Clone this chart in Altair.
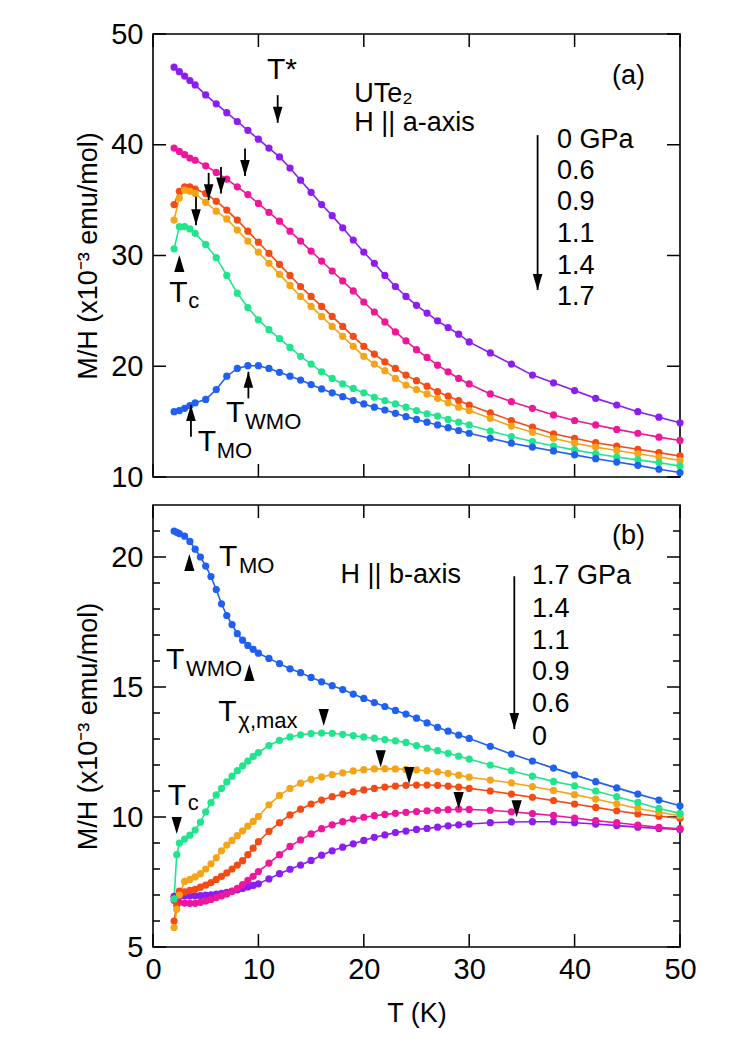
import altair as alt
import pandas as pd

FONT = "Liberation Sans"

# ---------------- data ----------------
PRESSURES = ["0", "0.6", "0.9", "1.1", "1.4", "1.7"]
COLORS = ["#8c1cf2", "#f0169b", "#f54a14", "#f5a418", "#1fe58c", "#1f5ff2"]

# panel (a): H || a-axis
T_A = [2, 2.5, 3, 3.5, 4, 5, 6, 7, 8, 9, 10, 11, 12, 13, 14, 15, 16, 17, 18, 19, 20,
       21, 22, 23, 24, 25, 26, 27, 28, 29, 30, 32, 34, 36, 38, 40, 42, 44, 46, 48, 50]
A_P0 = [47.0, 46.6, 46.2, 45.8, 45.4, 44.5, 43.7, 42.9, 42.1, 41.3, 40.5, 39.7, 38.9,
        37.9, 36.8, 35.7, 34.6, 33.6, 32.5, 31.4, 30.3, 29.3, 28.2, 27.2, 26.3, 25.5,
        24.8, 24.1, 23.5, 22.9, 22.2, 21.2, 20.2, 19.2, 18.5, 17.8, 17.1, 16.5, 15.9,
        15.4, 14.9]
A_P06 = [39.7, 39.4, 39.1, 38.8, 38.6, 38.1, 37.5, 36.9, 36.2, 35.5, 34.7, 33.9, 33.1,
         32.2, 31.3, 30.4, 29.5, 28.6, 27.7, 26.8, 25.8, 24.9, 24.0, 23.1, 22.3, 21.5,
         20.8, 20.1, 19.5, 18.9, 18.4, 17.5, 16.8, 16.2, 15.6, 15.1, 14.7, 14.3, 13.95,
         13.6, 13.3]
A_P09 = [34.6, 35.8, 36.2, 36.2, 36.0, 35.6, 34.9, 34.1, 33.2, 32.2, 31.2, 30.2, 29.2,
         28.2, 27.2, 26.3, 25.4, 24.5, 23.6, 22.7, 21.8, 21.1, 20.4, 19.8, 19.2, 18.7,
         18.2, 17.7, 17.3, 16.9, 16.5, 15.8, 15.1, 14.5, 13.9, 13.5, 13.1, 12.8, 12.5,
         12.2, 11.9]
A_P11 = [33.2, 35.2, 35.9, 35.8, 35.6, 34.8, 34.0, 33.3, 32.3, 31.3, 30.3, 29.3, 28.3,
         27.3, 26.3, 25.4, 24.5, 23.6, 22.7, 21.8, 20.9, 20.2, 19.6, 18.9, 18.3, 17.9,
         17.5, 17.1, 16.7, 16.3, 16.0, 15.3, 14.6, 14.05, 13.5, 13.05, 12.7, 12.4, 12.1,
         11.8, 11.5]
A_P14 = [30.6, 32.6, 32.6, 32.4, 32.0, 31.0, 29.8, 28.2, 26.6, 25.3, 24.2, 23.3, 22.5,
         21.7, 20.9, 20.2, 19.5, 18.9, 18.4, 18.0, 17.6, 17.2, 16.9, 16.6, 16.3, 16.0,
         15.7, 15.5, 15.2, 14.95, 14.7, 14.15, 13.65, 13.2, 12.8, 12.45, 12.1, 11.8,
         11.55, 11.3, 11.0]
A_P17 = [15.9, 16.0, 16.2, 16.45, 16.7, 17.0, 17.9, 19.1, 19.8, 20.05, 20.05, 19.8, 19.45,
         19.1, 18.75, 18.35, 17.95, 17.6, 17.25, 16.9, 16.6, 16.3, 16.05, 15.75, 15.45,
         15.2, 14.95, 14.7, 14.45, 14.2, 13.95, 13.5, 13.05, 12.7, 12.35, 12.0, 11.65,
         11.35, 11.05, 10.7, 10.4]

# panel (b): H || b-axis
T_B = [2, 2.25, 2.5, 3, 3.5, 4, 4.5, 5, 5.5, 6, 6.5, 7, 7.5, 8, 8.5, 9, 9.5, 10,
       11, 12, 13, 14, 15, 16, 17, 18, 19, 20, 21, 22, 23, 24, 25, 26, 27, 28, 29, 30,
       32, 34, 36, 38, 40, 42, 44, 46, 48, 50]
B_P0 = [6.95, 6.95, 6.96, 6.97, 6.97, 6.97, 6.98, 7.0, 7.01, 7.03, 7.06, 7.1, 7.15, 7.2,
        7.25, 7.31, 7.37, 7.43, 7.62, 7.82, 7.99, 8.15, 8.33, 8.53, 8.7, 8.84, 8.97, 9.1,
        9.22, 9.31, 9.4, 9.46, 9.52, 9.56, 9.61, 9.66, 9.7, 9.73, 9.78, 9.81, 9.82, 9.82,
        9.78, 9.73, 9.67, 9.61, 9.56, 9.52]
B_P06 = [6.8, 6.75, 6.72, 6.69, 6.68, 6.68, 6.72, 6.77, 6.83, 6.9, 6.97, 7.04, 7.14, 7.26,
         7.4, 7.56, 7.72, 7.9, 8.23, 8.55, 8.87, 9.12, 9.35, 9.55, 9.7, 9.82, 9.92, 9.99,
         10.05, 10.1, 10.14, 10.18, 10.21, 10.24, 10.26, 10.28, 10.3, 10.29, 10.26, 10.2,
         10.13, 10.06, 9.96, 9.86, 9.78, 9.69, 9.6, 9.55]
B_P09 = [6.0, 6.6, 7.15, 7.12, 7.18, 7.22, 7.3, 7.38, 7.48, 7.6, 7.72, 7.85, 8.0, 8.15,
         8.32, 8.55, 8.8, 9.05, 9.45, 9.78, 10.08, 10.3, 10.5, 10.65, 10.78, 10.88, 10.97,
         11.04, 11.1, 11.15, 11.19, 11.22, 11.23, 11.23, 11.22, 11.19, 11.15, 11.1, 11.0,
         10.88, 10.76, 10.63, 10.5, 10.37, 10.24, 10.12, 10.03, 9.95]
B_P11 = [5.75, 6.45, 7.0, 7.52, 7.6, 7.7, 7.82, 8.0, 8.2, 8.43, 8.7, 8.92, 9.1, 9.28,
         9.47, 9.65, 9.83, 10.02, 10.47, 10.83, 11.1, 11.3, 11.45, 11.54, 11.63, 11.7,
         11.77, 11.82, 11.85, 11.86, 11.85, 11.83, 11.81, 11.78, 11.74, 11.68, 11.61,
         11.53, 11.42, 11.31, 11.17, 11.02, 10.86, 10.69, 10.51, 10.33, 10.18, 10.05]
B_P14 = [6.85, 8.55, 9.0, 9.15, 9.3, 9.5, 9.8, 10.2, 10.55, 10.85, 11.1, 11.35, 11.57,
         11.78, 11.97, 12.15, 12.33, 12.48, 12.75, 12.95, 13.08, 13.16, 13.21, 13.23,
         13.22, 13.18, 13.13, 13.08, 13.03, 12.98, 12.93, 12.87, 12.75, 12.65, 12.55,
         12.45, 12.34, 12.23, 12.0, 11.78, 11.57, 11.37, 11.2, 11.0, 10.78, 10.56, 10.33,
         10.14]
B_P17 = [21.0, 20.95, 20.9, 20.8, 20.6, 20.3, 20.0, 19.65, 19.25, 18.75, 18.2, 17.75,
         17.4, 17.05, 16.8, 16.6, 16.45, 16.3, 16.1, 15.9, 15.7, 15.55, 15.37, 15.2,
         15.05, 14.9, 14.73, 14.56, 14.4, 14.25, 14.1, 13.96, 13.8, 13.62, 13.45, 13.3,
         13.15, 13.02, 12.72, 12.42, 12.15, 11.88, 11.62, 11.36, 11.12, 10.88, 10.65,
         10.43]

# axis tick values
X_TICKS = [0, 10, 20, 30, 40, 50]
YA_TICKS = [10, 20, 30, 40, 50]
YB_TICKS = [5, 10, 15, 20]
YB_MINOR = [6, 7, 8, 9, 11, 12, 13, 14, 16, 17, 18, 19, 21]


def long_table(T, series):
    rows = []
    for p, vals in zip(PRESSURES, series):
        for t, m in zip(T, vals):
            rows.append({"T": t, "M": m, "P": p})
    return pd.DataFrame(rows)


df_a = long_table(T_A, [A_P0, A_P06, A_P09, A_P11, A_P14, A_P17])
df_b = long_table(T_B, [B_P0, B_P06, B_P09, B_P11, B_P14, B_P17])

# ---------------- styling ----------------
W, HA, HB = 527, 443, 442
MAJ, MIN = 13, 7
YTITLE = "M/H (x10\u207b\u00b3 emu/mol)"
UP = "M0,0 L0.6,2 L-0.6,2 Z"
DOWN = "M0,0 L0.6,-2 L-0.6,-2 Z"

XS = alt.Scale(domain=[0, 50], nice=False, zero=False)

X_A = alt.X("T:Q", scale=XS, axis=alt.Axis(labels=False, title=None))
Y_A = alt.Y("M:Q", scale=alt.Scale(domain=[10, 50], nice=False, zero=False),
            axis=alt.Axis(values=YA_TICKS, format="d", title=YTITLE,
                          labelPadding=10, titlePadding=8))
X_B = alt.X("T:Q", scale=XS,
            axis=alt.Axis(values=X_TICKS, format="d", title="T (K)",
                          labelPadding=8, titlePadding=16))
Y_B = alt.Y("M:Q", scale=alt.Scale(domain=[5, 22], nice=False, zero=False),
            axis=alt.Axis(values=YB_TICKS, format="d", title=YTITLE,
                          labelPadding=10, titlePadding=8))

color = alt.Color("P:N", scale=alt.Scale(domain=PRESSURES, range=COLORS), legend=None)


def curves(df, X, Y):
    base = alt.Chart(df).encode(x=X, y=Y, color=color, detail="P:N")
    return [base.mark_line(strokeWidth=1.6),
            base.mark_circle(size=52, opacity=1)]


def ticks(X, Y, yvals, h, minor=None):
    out = []
    ydf = pd.DataFrame({"M": yvals})
    xdf = pd.DataFrame({"T": X_TICKS})
    rule = dict(color="black", strokeWidth=1.5)
    out.append(alt.Chart(ydf).mark_rule(**rule).encode(y=Y, x=alt.value(0), x2=alt.value(MAJ)))
    out.append(alt.Chart(ydf).mark_rule(**rule).encode(y=Y, x=alt.value(W - MAJ), x2=alt.value(W)))
    out.append(alt.Chart(xdf).mark_rule(**rule).encode(x=X, y=alt.value(0), y2=alt.value(MAJ)))
    out.append(alt.Chart(xdf).mark_rule(**rule).encode(x=X, y=alt.value(h - MAJ), y2=alt.value(h)))
    if minor:
        mdf = pd.DataFrame({"M": minor})
        out.append(alt.Chart(mdf).mark_rule(**rule).encode(y=Y, x=alt.value(0), x2=alt.value(MIN)))
        out.append(alt.Chart(mdf).mark_rule(**rule).encode(y=Y, x=alt.value(W - MIN), x2=alt.value(W)))
    return out


def texts(rows, X, Y, size, align="left", dx=0, dy=0):
    df = pd.DataFrame(rows, columns=["T", "M", "label"])
    return alt.Chart(df).mark_text(font=FONT, fontSize=size, align=align, baseline="middle",
                                   dx=dx, dy=dy, color="black").encode(x=X, y=Y, text="label:N")


def arrows(rows, X, Y):
    df = pd.DataFrame(rows, columns=["T", "M", "M2"])
    return alt.Chart(df).mark_rule(color="black", strokeWidth=1.8).encode(x=X, y=Y, y2="M2:Q")


def heads(rows, X, Y, shape, size):
    df = pd.DataFrame(rows, columns=["T", "M"])
    return alt.Chart(df).mark_point(shape=shape, filled=True, size=size, color="black",
                                    opacity=1, strokeWidth=0).encode(x=X, y=Y)


# ---------------- panel (a) ----------------
a_layers = ticks(X_A, Y_A, YA_TICKS, HA) + curves(df_a, X_A, Y_A)
a_layers += [
    texts([(19.1, 44.57, "UTe\u2082"), (19.1, 42.0, "H || a-axis"),
           (38.33, 40.42, "0 GPa"), (38.33, 37.64, "0.6"), (38.33, 34.85, "0.9"),
           (38.33, 31.93, "1.1"), (38.33, 29.06, "1.4"), (38.33, 26.27, "1.7")],
          X_A, Y_A, 27),
    texts([(46.68, 46.23, "(a)")], X_A, Y_A, 27, align="right"),
    texts([(10.82, 46.73, "T*"), (1.55, 26.6, "T"), (6.93, 15.8, "T"), (4.24, 13.16, "T")],
          X_A, Y_A, 30),
    texts([(1.55, 26.6, "c")], X_A, Y_A, 22, dx=19, dy=8),
    texts([(6.93, 15.8, "WMO"), (4.24, 13.16, "MO")], X_A, Y_A, 22, dx=19, dy=9),
    arrows([(11.83, 44.48, 41.98), (8.73, 39.67, 37.17), (6.45, 38.0, 35.6),
            (5.28, 37.46, 35.0), (4.08, 35.3, 32.74), (36.49, 40.87, 26.88),
            (9.05, 19.5, 17.1), (3.6, 16.5, 13.64)], X_A, Y_A),
    heads([(11.83, 41.98), (8.73, 37.17), (6.45, 35.6), (5.28, 35.0), (4.08, 32.74),
           (36.49, 26.88)], X_A, Y_A, DOWN, 256),
    heads([(9.05, 19.5), (3.6, 16.5)], X_A, Y_A, UP, 256),
    heads([(2.5, 30.04)], X_A, Y_A, UP, 289),
]
panel_a = alt.layer(*a_layers).properties(width=W, height=HA)

# ---------------- panel (b) ----------------
b_layers = ticks(X_B, Y_B, YB_TICKS, HB, minor=YB_MINOR) + curves(df_b, X_B, Y_B)
b_layers += [
    texts([(17.78, 19.32, "H || b-axis"),
           (35.96, 19.27, "1.7 GPa"), (35.96, 18.0, "1.4"), (35.96, 16.78, "1.1"),
           (35.96, 15.58, "0.9"), (35.96, 14.35, "0.6"), (35.96, 13.08, "0")],
          X_B, Y_B, 27),
    texts([(46.68, 20.82, "(b)")], X_B, Y_B, 27, align="right"),
    texts([(6.26, 20.0, "T"), (1.23, 16.05, "T"), (6.2, 14.04, "T"), (1.39, 10.79, "T")],
          X_B, Y_B, 30),
    texts([(6.26, 20.0, "MO"), (1.23, 16.05, "WMO"), (6.2, 14.04, "\u03c7,max")],
          X_B, Y_B, 22, dx=20, dy=9),
    texts([(1.39, 10.79, "c")], X_B, Y_B, 22, dx=20, dy=7),
    arrows([(34.28, 19.26, 13.38)], X_B, Y_B),
    heads([(34.28, 13.38)], X_B, Y_B, DOWN, 256),
    heads([(3.45, 20.12), (9.14, 15.88)], X_B, Y_B, UP, 289),
    heads([(16.2, 13.5), (21.6, 11.91), (24.3, 11.27), (29.0, 10.31), (34.5, 9.99),
           (2.25, 9.35)], X_B, Y_B, DOWN, 289),
]
panel_b = alt.layer(*b_layers).properties(width=W, height=HB)

chart = alt.vconcat(panel_a, panel_b, spacing=10).properties(
    padding={"left": 65, "top": 11, "right": 10, "bottom": 10}
).configure_view(
    stroke="black", strokeWidth=1.6
).configure_axis(
    ticks=False, domain=False, grid=False, labelFlush=False, labelOverlap=False,
    labelFont=FONT, labelFontSize=29, labelColor="black",
    titleFont=FONT, titleFontSize=27, titleFontWeight="normal", titleColor="black"
)

chart.save("out.html", embed_options={"renderer": "svg", "actions": False})
